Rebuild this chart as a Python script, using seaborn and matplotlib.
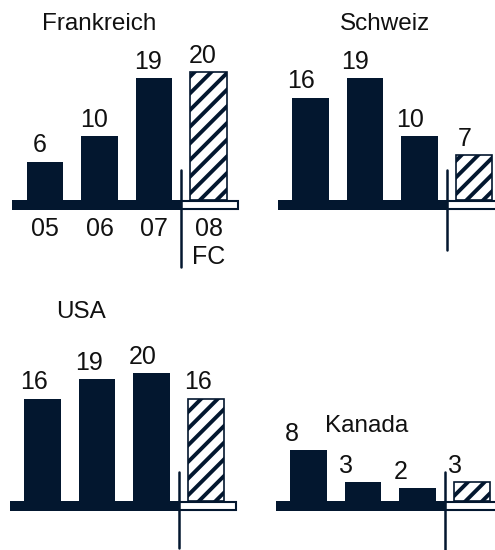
import matplotlib.pyplot as plt
import seaborn as sns
from matplotlib.patches import Rectangle

# data
years = ["05", "06", "07", "08\nFC"]
frankreich = [6, 10, 19, 20]
schweiz = [16, 19, 10, 7]
usa = [16, 19, 20, 16]
kanada = [8, 3, 2, 3]

NAVY = "#03172f"
W, H = 495, 550
SX, SY = 54.5, 6.4          # pixels per x unit / per value unit
X0, X1 = -0.7, 3.6
Y0, Y1 = -1.6, 30

sns.set_theme(style="white")
plt.rcParams["font.family"] = ["Liberation Sans", "DejaVu Sans"]
plt.rcParams["hatch.linewidth"] = 2.8

fig = plt.figure(figsize=(W / 100, H / 100), dpi=100)


def panel(ox, oy, values, title, tpos, sep, shift, ticks=False):
    rect = [(ox + X0 * SX) / W, (H - (oy - Y0 * SY)) / H,
            (X1 - X0) * SX / W, (Y1 - Y0) * SY / H]
    ax = fig.add_axes(rect)
    ax.patch.set_visible(False)
    sns.barplot(x=years, y=values, color=NAVY, width=0.67, saturation=1,
                edgecolor=NAVY, linewidth=0, ax=ax)
    fc = ax.patches[3]
    fc.set_facecolor("white")
    fc.set_edgecolor(NAVY)
    fc.set_linewidth(1.2)
    fc.set_hatch("//")

    # baseline: solid for actuals, outlined for forecast
    ax.add_patch(Rectangle((-0.6, -1.6), 3.1, 1.6, color=NAVY, lw=0, clip_on=False))
    ax.add_patch(Rectangle((2.5, -1.45), 1.05, 1.3, facecolor="white",
                           edgecolor=NAVY, lw=1.5, clip_on=False))
    ax.plot([2.5, 2.5], sep, color=NAVY, lw=1.8, clip_on=False)

    for i, v in enumerate(values):
        ax.annotate(str(v), (i, v), xytext=(shift, 3), textcoords="offset points",
                    ha="center", va="bottom", fontsize=18, color="#111111")
    ax.text(tpos[0], tpos[1], title, ha="center", va="baseline",
            fontsize=17.5, color="#111111")

    ax.set_xlim(X0, X1)
    ax.set_ylim(Y0, Y1)
    ax.set_yticks([])
    ax.set_xlabel("")
    ax.set_ylabel("")
    ax.tick_params(axis="x", length=0, pad=5, labelsize=18, labelcolor="#111111")
    if not ticks:
        ax.set_xticklabels([])
    sns.despine(ax=ax, left=True, bottom=True)
    return ax


panel(45, 200, frankreich, "Frankreich", (0.99, 26.6), (4.7, -10.5), -4, ticks=True)
panel(310.5, 200, schweiz, "Schweiz", (1.37, 26.6), (4.7, -7.8), -7)
panel(42.5, 501, usa, "USA", (0.71, 28.6), (4.5, -7.3), -6)
panel(308.5, 501, kanada, "Kanada", (1.07, 10.8), (4.6, -7.8), -12)

fig.savefig("out.png", dpi=100)
